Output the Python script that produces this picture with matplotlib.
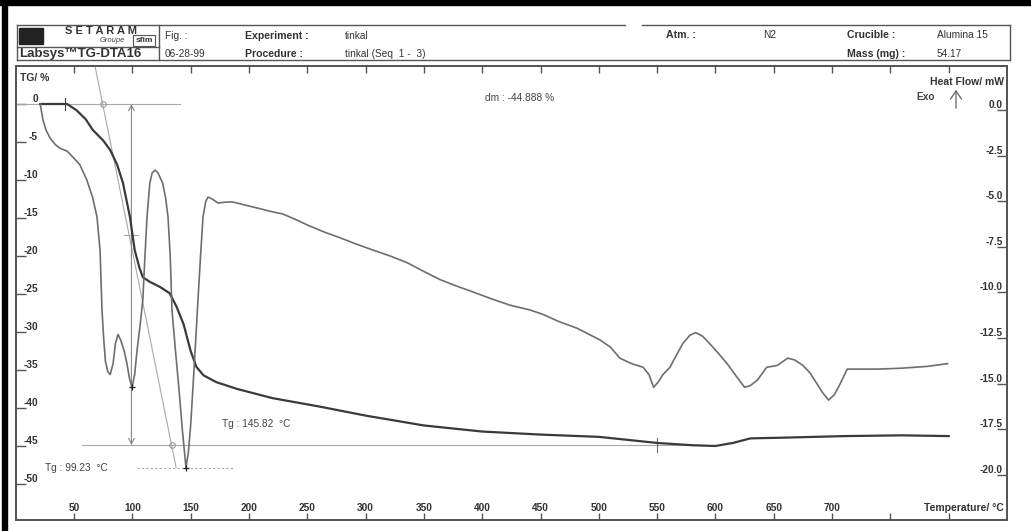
import numpy as np
import matplotlib.pyplot as plt
from matplotlib.patches import Rectangle

plt.rcParams['font.family'] = ['Liberation Sans', 'DejaVu Sans']

W, H = 1031, 531

# TG curve: mass change in %
tg_temp = [21, 44, 52, 60, 66, 75, 81, 87, 92, 98, 102, 106, 109, 115, 124, 132, 138,
           144, 150, 155, 161, 172, 190, 220, 260, 300, 350, 400, 450, 500, 550, 580,
           600, 615, 630, 660, 710, 760, 800]
tg_mass = [0, 0, -0.8, -2.0, -3.4, -4.8, -6.05, -8.0, -10.4, -14.9, -19.2, -21.5, -22.8,
           -23.4, -24.1, -24.9, -26.7, -29.0, -32.5, -34.6, -35.7, -36.6, -37.5, -38.7,
           -39.8, -41.0, -42.3, -43.1, -43.5, -43.8, -44.6, -44.9, -45.0, -44.6, -44.0,
           -43.9, -43.7, -43.6, -43.7]

# DTA curve: heat flow in mW
hf_temp = [21, 23.4, 26, 29.4, 34, 38, 44, 49, 55, 61, 66, 69.7, 72.3, 74, 75.5, 77, 79,
           81, 83.5, 85.5, 87.7, 90, 93, 95.4, 97.5, 99.7, 102, 104, 106.5, 109, 111,
           112.6, 115, 117, 119.5, 122, 126, 128.5, 130.6, 132.5, 134, 137, 140, 143,
           146, 148, 150, 152, 154, 156.3, 158.5, 160.6, 163, 165, 169, 173.5, 180, 186,
           196, 207, 218, 229, 240, 250, 265, 278, 292, 306, 321, 336, 350, 364, 378,
           392, 408, 424, 441, 452, 466, 481, 501, 510, 518, 528, 538, 543, 547, 551,
           555, 561, 566, 572, 578, 583, 589, 595, 602, 610, 618, 625, 630, 636, 644,
           653, 662, 668, 675, 681, 687, 692, 697, 702, 707, 713, 725, 739, 760, 782, 799]
hf_flow = [0.33, -0.55, -1.1, -1.53, -1.9, -2.1, -2.25, -2.58, -3.0, -3.84, -4.8, -5.86,
           -7.67, -10.96, -12.6, -13.8, -14.35, -14.5, -13.9, -12.8, -12.3, -12.6, -13.2,
           -13.9, -14.7, -15.2, -14.5, -13.2, -11.9, -10.4, -7.8, -5.86, -4.0, -3.45,
           -3.29, -3.45, -4.0, -4.8, -5.86, -8.0, -10.96, -13.2, -15.3, -17.6, -19.6,
           -18.8, -17.3, -15.2, -13.0, -10.4, -8.0, -5.86, -5.0, -4.77, -4.9, -5.1,
           -5.05, -5.04, -5.2, -5.37, -5.55, -5.7, -6.0, -6.3, -6.7, -7.0, -7.35, -7.67,
           -8.0, -8.38, -8.85, -9.3, -9.65, -9.97, -10.35, -10.7, -10.96, -11.2, -11.6,
           -11.95, -12.6, -13.0, -13.6, -13.9, -14.1, -14.5, -15.2, -14.9, -14.5, -14.1,
           -13.5, -12.8, -12.35, -12.2, -12.4, -12.8, -13.3, -13.9, -14.6, -15.2, -15.1,
           -14.8, -14.1, -14.0, -13.6, -13.7, -14.0, -14.4, -15.0, -15.5, -15.9, -15.6,
           -15.0, -14.2, -14.2, -14.2, -14.15, -14.05, -13.9]

x_ticks = [50, 100, 150, 200, 250, 300, 350, 400, 450, 500, 550, 600, 650, 700, 750, 800]
x_labels = ['50', '100', '150', '200', '250', '300', '350', '400', '450', '500', '550',
            '600', '650', '700', '', '']
tg_ticks = [0, -5, -10, -15, -20, -25, -30, -35, -40, -45, -50]
hf_ticks = [0.0, -2.5, -5.0, -7.5, -10.0, -12.5, -15.0, -17.5, -20.0]

# analysis marks
tg1 = 99.23
tg2 = 145.82
dm = -44.888
tg_half = -17.2
peak_min1 = (99.7, -15.2)
peak_min2 = (146.0, -19.6)

dark = '#3a3a3a'
mid = '#6e6e6e'
light = '#a8a8a8'

fig = plt.figure(figsize=(W / 100, H / 100), dpi=100)
ax = fig.add_axes([15.7 / W, 1 - 520 / H, (1007 - 15.7) / W, (520 - 66) / H])
ax.set_xlim(0, 850)
ax.set_ylim(-54.74, 5.0)
ax2 = ax.twinx()
ax2.set_ylim(-22.47, 2.41)

# curves
ax.plot(tg_temp, tg_mass, color=dark, lw=1.6, zorder=4)
ax2.plot(hf_temp, hf_flow, color=mid, lw=1.2, zorder=4)

# construction lines
ax.plot([0, 141], [0, 0], color=light, lw=0.8)
ax.plot([57, 591], [dm, dm], color=light, lw=0.8)
ax.annotate('', xy=(tg1, 0), xytext=(tg1, dm),
            arrowprops=dict(arrowstyle='<->', color='#888888', lw=0.8, shrinkA=0, shrinkB=0))
ax.plot([tg1 - 6, tg1 + 6], [tg_half, tg_half], color=light, lw=0.8)
ax.plot([68, 137.5], [5, -47.8], color=light, lw=0.8)
ax.plot([75, 134], [0, dm], 'o', ms=4, mfc='none', mec='#999999', mew=0.8)
ax.plot([42, 42], [0.8, -0.8], color=dark, lw=0.8)
ax.plot([550, 550], [dm + 0.9, dm - 0.9], color=mid, lw=0.8)
ax2.plot(*zip(peak_min1, peak_min2), '+', color='#222222', ms=5, mew=0.9, zorder=5)
ax2.plot([104, 186], [peak_min2[1], peak_min2[1]], color=light, lw=0.8, ls=(0, (2, 2)))

ax.text(25, -47.9, 'Tg : 99.23  °C', fontsize=7.3, color='#444444', va='center')
ax.text(177, -42.1, 'Tg : 145.82  °C', fontsize=7.3, color='#444444', va='center')
ax.text(402, 0.8, 'dm : -44.888 %', fontsize=7.3, color='#444444', va='center')

# axes styling
for a in (ax, ax2):
    for s in a.spines.values():
        s.set_color('#555555')
        s.set_linewidth(1.3)

ax.set_xticks(x_ticks)
ax.set_xticklabels(x_labels, fontsize=7.3, fontweight='bold', color='#333333', va='bottom')
ax.tick_params(axis='x', direction='in', length=5, width=1, color='#555555', pad=-5,
               top=True)
ax.set_yticks(tg_ticks)
ax.set_yticklabels([str(t) for t in tg_ticks], fontsize=7.3, fontweight='bold',
                   color='#333333', va='bottom')
ax.tick_params(axis='y', direction='in', length=7.5, width=1, color='#555555', pad=-16)

ax2.set_yticks(hf_ticks)
ax2.set_yticklabels([f'{t:.1f}' for t in hf_ticks], fontsize=7.3, fontweight='bold',
                    color='#333333', va='bottom', ha='right')
ax2.tick_params(axis='y', direction='in', length=7.5, width=1, color='#555555', pad=-3)

# overlay in pixel coordinates for header and frame labels
ov = fig.add_axes([0, 0, 1, 1], zorder=10)
ov.set_xlim(0, W)
ov.set_ylim(H, 0)
ov.axis('off')
ov.patch.set_alpha(0)

ov.add_patch(Rectangle((0, 0), W, 4.5, color='black'))
ov.add_patch(Rectangle((1.5, 0), 5, H, color='black'))

# header box
ov.plot([17, 625], [25, 25], color='#555555', lw=1)
ov.plot([642, 1010], [25, 25], color='#555555', lw=1)
ov.plot([17, 1010], [60, 60], color='#555555', lw=1)
ov.plot([17, 17], [25, 60], color='#555555', lw=1)
ov.plot([1010, 1010], [25, 60], color='#555555', lw=1)
ov.plot([159, 159], [25, 60], color='#555555', lw=1)
ov.plot([17, 159], [47, 47], color='#555555', lw=1)

ov.add_patch(Rectangle((19, 28), 24, 16, color='#222222'))
ov.text(101, 31, 'S E T A R A M', fontsize=8, fontweight='heavy', color='#333333',
        ha='center', va='center')
ov.text(112, 41, 'Groupe', fontsize=5.5, style='italic', color='#444444',
        ha='center', va='center')
ov.add_patch(Rectangle((133, 35), 22, 11, fill=False, ec='#555555', lw=0.8))
ov.text(144, 40.5, 'sfim', fontsize=6, fontweight='bold', color='#333333',
        ha='center', va='center')
ov.text(19, 54, 'Labsys™TG-DTA16', fontsize=9.5, fontweight='bold', color='#333333',
        va='center')

bold_items = [('Experiment :', 245, 36), ('Procedure :', 245, 54), ('Atm. :', 666, 35),
              ('Crucible :', 847, 35), ('Mass (mg) :', 847, 54)]
plain_items = [('Fig. :', 165, 36), ('06-28-99', 165, 54), ('tinkal', 345, 36),
               ('tinkal (Seq  1 -  3)', 345, 54), ('N2', 763, 35),
               ('Alumina 15', 937, 35), ('54.17', 937, 54)]
for s, x, y in bold_items:
    ov.text(x, y, s, fontsize=7.6, fontweight='bold', color='#333333', va='center')
for s, x, y in plain_items:
    ov.text(x, y, s, fontsize=7.3, color='#333333', va='center')

ov.text(20, 78, 'TG/ %', fontsize=7.5, fontweight='bold', color='#333333', va='center')
ov.text(1004, 82, 'Heat Flow/ mW', fontsize=7.5, fontweight='bold', color='#333333',
        ha='right', va='center')
ov.text(916, 97, 'Exo', fontsize=7.3, fontweight='bold', color='#444444', va='center')
ov.annotate('', xy=(956, 87), xytext=(956, 111),
            arrowprops=dict(arrowstyle='->,head_width=0.4,head_length=0.6',
                            color='#666666', lw=0.9))
ov.text(1004, 508, 'Temperature/ °C', fontsize=7.5, fontweight='bold', color='#333333',
        ha='right', va='center')

fig.savefig('out.png', dpi=100)
